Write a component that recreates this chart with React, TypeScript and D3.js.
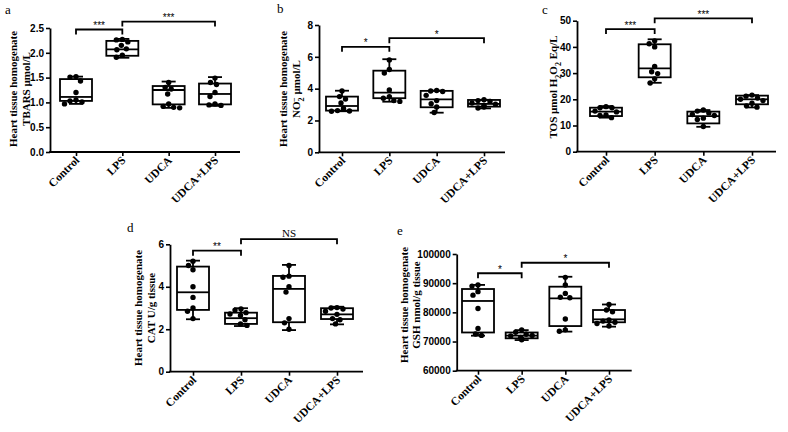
import { useEffect, useRef } from 'react';
import * as d3 from 'd3';

const groups = ['Control', 'LPS', 'UDCA', 'UDCA+LPS'];

// a - TBARS
const tbarsPoints = [
  [1.52, 1.51, 1.43, 1.2, 1.05, 1.03, 1.01, 0.97],
  [2.27, 2.26, 2.22, 2.15, 2.08, 2.06, 1.95, 1.91],
  [1.4, 1.3, 1.27, 1.17, 0.97, 0.92, 0.9, 0.89],
  [1.49, 1.4, 1.36, 1.2, 1.12, 0.97, 0.95, 0.94],
];
// [min, q1, median, q3, max]
const tbarsBoxes = [
  [0.97, 1.03, 1.11, 1.47, 1.52],
  [1.9, 1.94, 2.07, 2.24, 2.28],
  [0.89, 0.96, 1.25, 1.33, 1.42],
  [0.93, 0.96, 1.17, 1.38, 1.51],
];
const tbarsTicks = [0, 0.5, 1, 1.5, 2, 2.5];

// b - NO2-
const no2Points = [
  [3.85, 3.5, 3.35, 3.1, 2.75, 2.62, 2.6, 2.58],
  [5.8, 5.2, 4.98, 3.92, 3.5, 3.4, 3.25, 3.2],
  [3.88, 3.85, 3.82, 3.58, 3.25, 3.05, 2.85, 2.5],
  [3.3, 3.25, 3.2, 3.1, 3.02, 2.95, 2.85, 2.78],
];
const no2Boxes = [
  [2.58, 2.62, 2.91, 3.5, 3.87],
  [3.18, 3.4, 3.75, 5.13, 5.85],
  [2.49, 2.83, 3.33, 3.86, 3.88],
  [2.76, 2.87, 3.04, 3.29, 3.3],
];
const no2Ticks = [0, 2, 4, 6, 8];

// c - TOS
const tosPoints = [
  [17.2, 16.8, 16.8, 15.5, 15.2, 14.0, 13.8, 13.0],
  [42.3, 41.2, 40.0, 32.5, 30.5, 29.8, 27.8, 26.2],
  [15.9, 15.5, 14.8, 14.2, 13.8, 12.8, 12.3, 9.6],
  [21.6, 21.2, 20.5, 20.0, 19.5, 18.5, 17.5, 17.0],
];
const tosBoxes = [
  [13.0, 13.6, 15.3, 16.8, 17.4],
  [26.3, 28.4, 31.8, 41.0, 42.9],
  [9.5, 10.8, 13.6, 15.3, 15.9],
  [16.9, 18.1, 20.0, 21.4, 21.6],
];
const tosTicks = [0, 10, 20, 30, 40, 50];

// d - CAT
const catPoints = [
  [5.2, 5.0, 4.8, 4.0, 3.5, 3.0, 2.85, 2.5],
  [2.95, 2.9, 2.78, 2.72, 2.65, 2.45, 2.25, 2.18],
  [5.0, 4.5, 4.45, 4.0, 3.75, 2.5, 2.3, 2.0],
  [3.02, 3.0, 2.95, 2.85, 2.7, 2.5, 2.45, 2.25],
];
const catBoxes = [
  [2.47, 2.91, 3.74, 4.95, 5.23],
  [2.15, 2.25, 2.52, 2.78, 2.99],
  [1.96, 2.33, 3.9, 4.51, 5.03],
  [2.23, 2.48, 2.7, 2.99, 3.06],
];
const catTicks = [0, 2, 4, 6];

// e - GSH
const gshPoints = [
  [89400, 89000, 87100, 85900, 81300, 74500, 72600, 72100],
  [74000, 73200, 72500, 72100, 71900, 71400, 70900, 70600],
  [92000, 89400, 86500, 85200, 85000, 77700, 74000, 73500],
  [82700, 80800, 80200, 77400, 77000, 76600, 76200, 75300],
];
const gshBoxes = [
  [72000, 73100, 83900, 88000, 89400],
  [70500, 71100, 72000, 73100, 73900],
  [73400, 75300, 84800, 88800, 92200],
  [75100, 76600, 77600, 80800, 82700],
];
const gshTicks = [60000, 70000, 80000, 90000, 100000];

// significance brackets: [fromGroup, toGroup, level, text]
const tbarsSig: [number, number, number, string][] = [[0, 1, 2.47, '***'], [1, 3, 2.63, '***']];
const no2Sig: [number, number, number, string][] = [[0, 1, 6.63, '*'], [1, 3, 7.17, '*']];
const tosSig: [number, number, number, string][] = [[0, 1, 46.8, '***'], [1, 3, 50.9, '***']];
const catSig: [number, number, number, string][] = [[0, 1, 5.7, '**'], [1, 3, 6.24, 'NS']];
const gshSig: [number, number, number, string][] = [[0, 1, 93400, '*'], [1, 3, 97000, '*']];

// title segments: [text, 0 normal | 1 subscript | -1 superscript stacked over previous]
type Seg = [string, number];
type Panel = {
  letter: string;
  lx: number;
  ly: number;
  points: number[][];
  boxes: number[][];
  ticks: number[];
  fmt: string;
  sig: [number, number, number, string][];
  title: Seg[][];
  titleX: number[];
  titleY: number;
  x0: number;
  x1: number;
  c0: number;
  c1: number;
  yTop: number;
  yBot: number;
};

const panels: Panel[] = [
  {
    letter: 'a', lx: 5, ly: 14,
    points: tbarsPoints, boxes: tbarsBoxes, ticks: tbarsTicks, fmt: '.1f', sig: tbarsSig,
    title: [[['Heart tissue homogenate', 0]], [['TBARS µmol/L', 0]]],
    titleX: [16.5, 29.5], titleY: 89,
    x0: 50, x1: 240, c0: 76, c1: 215, yTop: 28, yBot: 152,
  },
  {
    letter: 'b', lx: 277, ly: 13,
    points: no2Points, boxes: no2Boxes, ticks: no2Ticks, fmt: 'd', sig: no2Sig,
    title: [[['Heart tissue homogenate', 0]], [['NO', 0], ['2', 1], ['−', -1], [' µmol/L', 0]]],
    titleX: [286.5, 300], titleY: 89,
    x0: 319, x1: 505, c0: 342, c1: 484, yTop: 25, yBot: 152.3,
  },
  {
    letter: 'c', lx: 542, ly: 14,
    points: tosPoints, boxes: tosBoxes, ticks: tosTicks, fmt: 'd', sig: tosSig,
    title: [[['TOS µmol H', 0], ['2', 1], ['O', 0], ['2', 1], [' Eq/L', 0]]],
    titleX: [557.3], titleY: 87,
    x0: 577, x1: 776, c0: 606, c1: 752, yTop: 20.7, yBot: 151.7,
  },
  {
    letter: 'd', lx: 127, ly: 232,
    points: catPoints, boxes: catBoxes, ticks: catTicks, fmt: 'd', sig: catSig,
    title: [[['Heart tissue homogenate', 0]], [['CAT U/g tissue', 0]]],
    titleX: [142, 155], titleY: 308,
    x0: 170, x1: 363, c0: 193, c1: 337, yTop: 244.3, yBot: 371.7,
  },
  {
    letter: 'e', lx: 397, ly: 235,
    points: gshPoints, boxes: gshBoxes, ticks: gshTicks, fmt: 'd', sig: gshSig,
    title: [[['Heart tissue homogenate', 0]], [['GSH nmol/g tissue', 0]]],
    titleX: [407.5, 420], titleY: 305,
    x0: 456.7, x1: 631.7, c0: 478, c1: 609, yTop: 254, yBot: 370.7,
  },
];

const SERIF = "'Liberation Serif', 'Times New Roman', serif";
const SANS = "'Liberation Sans', Arial, sans-serif";
const R = 2.7;

// spread points sideways so they don't overlap (like a scatter/column plot)
function spread(vals: number[], ypx: (v: number) => number) {
  const placed: { x: number; y: number }[] = [];
  const out: number[] = new Array(vals.length).fill(0);
  const minD = R * 2 + 0.6;
  vals
    .map((v, i) => ({ v, i }))
    .sort((a, b) => b.v - a.v)
    .forEach(({ v, i }) => {
      const py = ypx(v);
      for (let k = 0; k < 60; k++) {
        const off = k === 0 ? 0 : (k % 2 ? -1 : 1) * Math.ceil(k / 2) * 0.5;
        const ok = placed.every((q) => (q.x - off) ** 2 + (q.y - py) ** 2 >= minD * minD);
        if (ok) {
          out[i] = off;
          placed.push({ x: off, y: py });
          break;
        }
      }
    });
  return out;
}

function drawPanel(svg: d3.Selection<SVGSVGElement, unknown, null, undefined>, p: Panel) {
  const y = d3.scaleLinear().domain([p.ticks[0], p.ticks[p.ticks.length - 1]]).range([p.yBot, p.yTop]);
  const x = d3.scalePoint<string>().domain(groups).range([p.c0, p.c1]);
  const g = svg.append('g');

  // panel letter
  g.append('text')
    .attr('x', p.lx)
    .attr('y', p.ly)
    .style('font-family', SERIF)
    .style('font-size', '13px')
    .text(p.letter);

  // y axis
  const yAxis = g
    .append('g')
    .attr('transform', `translate(${p.x0},0)`)
    .call(
      d3
        .axisLeft(y)
        .tickValues(p.ticks)
        .tickSize(4)
        .tickSizeOuter(0)
        .tickPadding(2)
        .tickFormat(d3.format(p.fmt) as any)
    );
  yAxis.select('.domain').attr('stroke', '#000').attr('stroke-width', 1.8);
  yAxis.selectAll('.tick line').attr('stroke', '#000').attr('stroke-width', 1.6);
  yAxis
    .selectAll('.tick text')
    .attr('fill', '#000')
    .style('font-family', SANS)
    .style('font-weight', 'bold')
    .style('font-size', '10px');

  // x axis
  g.append('line')
    .attr('x1', p.x0 - 0.9)
    .attr('x2', p.x1)
    .attr('y1', p.yBot)
    .attr('y2', p.yBot)
    .attr('stroke', '#000')
    .attr('stroke-width', 1.8);
  const xAxis = g
    .append('g')
    .attr('transform', `translate(0,${p.yBot})`)
    .call(d3.axisBottom(x).tickSize(4).tickSizeOuter(0).tickFormat(() => ''));
  xAxis.select('.domain').remove();
  xAxis.selectAll('.tick line').attr('stroke', '#000').attr('stroke-width', 1.6);

  g.selectAll('.xlab')
    .data(groups)
    .enter()
    .append('text')
    .attr('transform', (d) => `translate(${(x(d) ?? 0) + 4},${p.yBot + 9}) rotate(-45)`)
    .attr('text-anchor', 'end')
    .style('font-family', SERIF)
    .style('font-weight', 'bold')
    .style('font-size', '11.5px')
    .text((d) => d);

  // y title
  p.title.forEach((line, li) => {
    const t = g
      .append('text')
      .attr('transform', `translate(${p.titleX[li]},${p.titleY}) rotate(-90)`)
      .attr('text-anchor', 'middle')
      .style('font-family', SERIF)
      .style('font-weight', 'bold')
      .style('font-size', '11px');
    let shift = 0;
    line.forEach(([s, k]) => {
      const target = k * 3.5;
      const ts = t
        .append('tspan')
        .attr('dy', target - shift)
        .style('font-size', k ? '8px' : '11px')
        .text(s);
      if (k === -1) ts.attr('dx', -4.5);
      shift = target;
    });
  });

  // boxes
  const bw = 32;
  const cap = 14;
  groups.forEach((grp, gi) => {
    const cx = x(grp) ?? 0;
    const [mn, q1, md, q3, mx] = p.boxes[gi];
    const bg = g.append('g').attr('stroke', '#000').attr('stroke-width', 1.8).attr('fill', 'none');
    bg.append('line').attr('x1', cx).attr('x2', cx).attr('y1', y(mx)).attr('y2', y(q3));
    bg.append('line').attr('x1', cx).attr('x2', cx).attr('y1', y(q1)).attr('y2', y(mn));
    bg.append('line').attr('x1', cx - cap / 2).attr('x2', cx + cap / 2).attr('y1', y(mx)).attr('y2', y(mx));
    bg.append('line').attr('x1', cx - cap / 2).attr('x2', cx + cap / 2).attr('y1', y(mn)).attr('y2', y(mn));
    bg.append('rect')
      .attr('x', cx - bw / 2)
      .attr('y', y(q3))
      .attr('width', bw)
      .attr('height', y(q1) - y(q3));
    bg.append('line').attr('x1', cx - bw / 2).attr('x2', cx + bw / 2).attr('y1', y(md)).attr('y2', y(md));

    const offs = spread(p.points[gi], y);
    g.selectAll(null)
      .data(p.points[gi])
      .enter()
      .append('circle')
      .attr('cx', (_d, i) => cx + offs[i])
      .attr('cy', (d) => y(d))
      .attr('r', R)
      .attr('fill', '#000');
  });

  // significance brackets
  p.sig.forEach(([a, b, lvl, txt]) => {
    const xa = x(groups[a]) ?? 0;
    const xb = x(groups[b]) ?? 0;
    const yy = y(lvl);
    g.append('path')
      .attr('d', `M${xa},${yy + 5}V${yy}H${xb}V${yy + 5}`)
      .attr('fill', 'none')
      .attr('stroke', '#000')
      .attr('stroke-width', 1.8);
    const isNs = txt === 'NS';
    g.append('text')
      .attr('x', (xa + xb) / 2)
      .attr('y', isNs ? yy - 2.7 : yy - 0.5)
      .attr('text-anchor', 'middle')
      .style('font-family', isNs ? SERIF : SANS)
      .style('font-size', isNs ? '11px' : '10px')
      .text(txt);
  });
}

export default function App() {
  const svgRef = useRef<SVGSVGElement>(null);

  useEffect(() => {
    if (!svgRef.current) return;
    const svg = d3.select(svgRef.current);
    svg.selectAll('*').remove();
    panels.forEach((p) => drawPanel(svg, p));
  }, []);

  return (
    <svg
      ref={svgRef}
      width={788}
      height={432}
      style={{ position: 'absolute', left: 0, top: 0, background: '#fff' }}
    />
  );
}
